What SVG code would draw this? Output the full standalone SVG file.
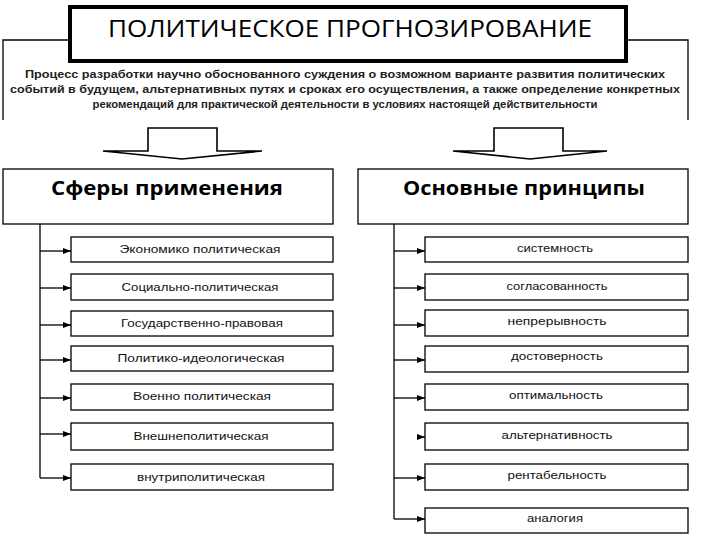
<svg xmlns="http://www.w3.org/2000/svg" width="720" height="540" viewBox="0 0 720 540">
<defs>
<marker id="ah" viewBox="0 0 8 6" refX="8" refY="3" markerWidth="8" markerHeight="6" markerUnits="userSpaceOnUse" orient="auto">
<path d="M0,0 L8,3 L0,6 z" fill="#000"/>
</marker>
<style>
.box{fill:#fff;stroke:#000;stroke-width:1.3}
.ln{fill:none;stroke:#000;stroke-width:1.3}
.big{fill:#fff;stroke:#000;stroke-width:1.6}
.t{font-family:"Liberation Sans",Arial,sans-serif;font-size:11px;fill:#111;text-anchor:middle}
.d{font-family:"Liberation Sans",Arial,sans-serif;font-size:11px;font-weight:bold;fill:#222;text-anchor:middle}
.h{font-family:"Open Sans","Liberation Sans",sans-serif;font-size:20px;font-weight:bold;fill:#000;text-anchor:middle}
.ti{font-family:"Open Sans","Liberation Sans",sans-serif;font-size:24px;fill:#000;text-anchor:middle}
</style>
</defs>
<rect width="720" height="540" fill="#fff"/>

<g id="description">
<path class="ln" d="M3,120 V40 H70 M626,40 H688 V120"/>
<text class="d" x="345" y="78" textLength="640" lengthAdjust="spacingAndGlyphs">Процесс разработки научно обоснованного суждения о возможном варианте развития политических</text>
<text class="d" x="345" y="93" textLength="670" lengthAdjust="spacingAndGlyphs">событий в будущем, альтернативных путях и сроках его осуществления, а также определение конкретных</text>
<text class="d" x="345" y="108" textLength="505" lengthAdjust="spacingAndGlyphs">рекомендаций для практической деятельности в условиях настоящей действительности</text>
</g>

<g id="title">
<rect x="70" y="7" width="556" height="54" fill="#fff" stroke="#000" stroke-width="4"/>
<text class="ti" x="350" y="37" textLength="484" lengthAdjust="spacingAndGlyphs">ПОЛИТИЧЕСКОЕ ПРОГНОЗИРОВАНИЕ</text>
</g>

<g id="arrow-left">
<polygon class="big" points="148,128 217,128 217,151 262,151 182,159 103,151 148,151"/>
</g>
<g id="arrow-right">
<polygon class="big" points="494,128 563,128 563,151 607,151 530,159 453,151 494,151"/>
</g>

<g id="spheres">
<rect class="box" x="3" y="169" width="330" height="55"/>
<text class="h" x="167" y="195" textLength="232" lengthAdjust="spacingAndGlyphs">Сферы применения</text>
</g>
<g id="principles">
<rect class="box" x="358" y="169" width="330" height="55"/>
<text class="h" x="524" y="195" textLength="242" lengthAdjust="spacingAndGlyphs">Основные принципы</text>
</g>

<g id="connectors">
<path class="ln" d="M40,224 V478"/>
<line class="ln" x1="40" y1="251" x2="71" y2="251" marker-end="url(#ah)"/>
<line class="ln" x1="40" y1="288" x2="71" y2="288" marker-end="url(#ah)"/>
<line class="ln" x1="40" y1="325" x2="71" y2="325" marker-end="url(#ah)"/>
<line class="ln" x1="40" y1="360" x2="71" y2="360" marker-end="url(#ah)"/>
<line class="ln" x1="40" y1="398" x2="71" y2="398" marker-end="url(#ah)"/>
<line class="ln" x1="40" y1="434" x2="71" y2="434" marker-end="url(#ah)"/>
<line class="ln" x1="40" y1="478" x2="71" y2="478" marker-end="url(#ah)"/>
<path class="ln" d="M394,224 V519"/>
<line class="ln" x1="394" y1="251" x2="425" y2="251" marker-end="url(#ah)"/>
<line class="ln" x1="394" y1="288" x2="425" y2="288" marker-end="url(#ah)"/>
<line class="ln" x1="394" y1="325" x2="425" y2="325" marker-end="url(#ah)"/>
<line class="ln" x1="394" y1="360" x2="425" y2="360" marker-end="url(#ah)"/>
<line class="ln" x1="394" y1="398" x2="425" y2="398" marker-end="url(#ah)"/>
<line class="ln" x1="417" y1="437" x2="425" y2="437" marker-end="url(#ah)"/>
<line class="ln" x1="394" y1="478" x2="425" y2="478" marker-end="url(#ah)"/>
<line class="ln" x1="394" y1="519" x2="425" y2="519" marker-end="url(#ah)"/>
</g>

<g id="l1"><rect class="box" x="71" y="237" width="262" height="25"/><text class="t" x="200" y="253" textLength="161" lengthAdjust="spacingAndGlyphs">Экономико политическая</text></g>
<g id="l2"><rect class="box" x="71" y="274" width="262" height="26"/><text class="t" x="200" y="291" textLength="157" lengthAdjust="spacingAndGlyphs">Социально-политическая</text></g>
<g id="l3"><rect class="box" x="71" y="311" width="262" height="25"/><text class="t" x="202" y="327" textLength="162" lengthAdjust="spacingAndGlyphs">Государственно-правовая</text></g>
<g id="l4"><rect class="box" x="71" y="346" width="262" height="25"/><text class="t" x="201" y="362" textLength="167" lengthAdjust="spacingAndGlyphs">Политико-идеологическая</text></g>
<g id="l5"><rect class="box" x="71" y="384" width="262" height="26"/><text class="t" x="202" y="400" textLength="138" lengthAdjust="spacingAndGlyphs">Военно политическая</text></g>
<g id="l6"><rect class="box" x="71" y="423" width="262" height="27"/><text class="t" x="201" y="440" textLength="135" lengthAdjust="spacingAndGlyphs">Внешнеполитическая</text></g>
<g id="l7"><rect class="box" x="71" y="464" width="262" height="26"/><text class="t" x="201" y="481" textLength="128" lengthAdjust="spacingAndGlyphs">внутриполитическая</text></g>

<g id="r1"><rect class="box" x="425" y="237" width="263" height="25"/><text class="t" x="555" y="252" textLength="76" lengthAdjust="spacingAndGlyphs">системность</text></g>
<g id="r2"><rect class="box" x="425" y="274" width="263" height="26"/><text class="t" x="557" y="290" textLength="101" lengthAdjust="spacingAndGlyphs">согласованность</text></g>
<g id="r3"><rect class="box" x="425" y="310" width="263" height="26"/><text class="t" x="557" y="325" textLength="99" lengthAdjust="spacingAndGlyphs">непрерывность</text></g>
<g id="r4"><rect class="box" x="425" y="346" width="263" height="26"/><text class="t" x="557" y="360" textLength="92" lengthAdjust="spacingAndGlyphs">достоверность</text></g>
<g id="r5"><rect class="box" x="425" y="384" width="263" height="26"/><text class="t" x="556" y="399" textLength="94" lengthAdjust="spacingAndGlyphs">оптимальность</text></g>
<g id="r6"><rect class="box" x="425" y="423" width="263" height="27"/><text class="t" x="557" y="439" textLength="111" lengthAdjust="spacingAndGlyphs">альтернативность</text></g>
<g id="r7"><rect class="box" x="425" y="464" width="263" height="26"/><text class="t" x="557" y="479" textLength="99" lengthAdjust="spacingAndGlyphs">рентабельность</text></g>
<g id="r8"><rect class="box" x="425" y="508" width="263" height="25"/><text class="t" x="555" y="522" textLength="56" lengthAdjust="spacingAndGlyphs">аналогия</text></g>
</svg>
